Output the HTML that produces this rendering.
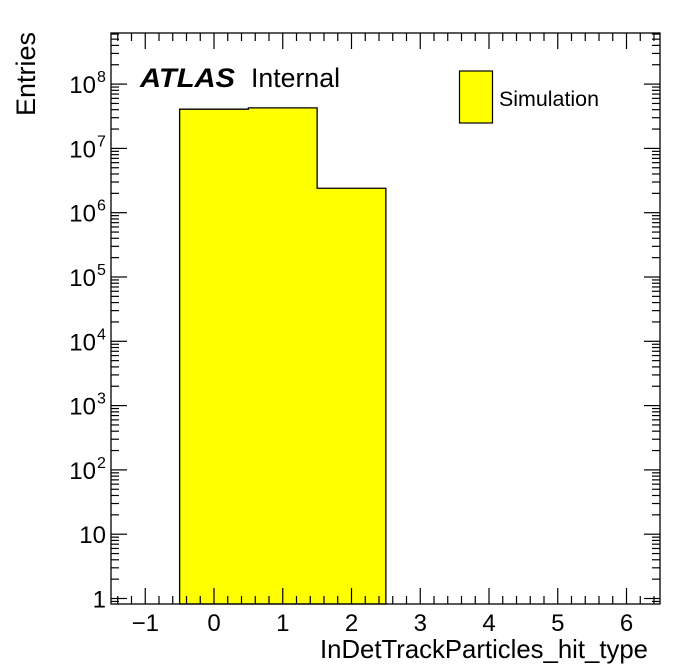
<!DOCTYPE html>
<html><head><meta charset="utf-8"><style>
html,body{margin:0;padding:0;background:#fff;}
svg{display:block;font-family:"Liberation Sans",Arial,sans-serif;}
</style></head><body>
<svg id="s" width="696" height="672" xmlns="http://www.w3.org/2000/svg"></svg>
<script>
const s=document.getElementById('s');
const L=111,R=660,T=33,B=604;
const X=v=>214+v*68.75;
const Y=l=>598.5-l*64.3;
let h='<rect width="696" height="672" fill="#fff"/>';
const bars=[[-0.5,0.5,7.61],[0.5,1.5,7.63],[1.5,2.5,6.38]];
let d='M'+X(-0.5)+' '+B;
bars.forEach(b=>{d+=' L'+X(b[0])+' '+Y(b[2])+' L'+X(b[1])+' '+Y(b[2]);});
d+=' L'+X(2.5)+' '+B+' Z';
h+='<path d="'+d+'" fill="#ffff00" stroke="#000" stroke-width="1.3"/>';
h+='<rect x="'+L+'" y="'+T+'" width="'+(R-L)+'" height="'+(B-T)+'" fill="none" stroke="#000" stroke-width="1.3"/>';
for(let v=-1.4;v<=6.45;v+=0.2){const vv=Math.round(v*10)/10;const x=X(vv);if(x<L||x>R)continue;
 const maj=Math.abs(vv-Math.round(vv))<1e-6;const len=maj?16:8;
 h+='<line x1="'+x+'" y1="'+B+'" x2="'+x+'" y2="'+(B-len)+'" stroke="#000" stroke-width="1.2"/>';
 h+='<line x1="'+x+'" y1="'+T+'" x2="'+x+'" y2="'+(T+len)+'" stroke="#000" stroke-width="1.2"/>';
 if(maj){h+='<text x="'+x+'" y="631" font-size="24" text-anchor="middle">'+(vv<0?'\u2212'+(-vv):vv)+'</text>';}
}
for(let e=-1;e<=9;e++){for(let m=1;m<=9;m++){const l=e+Math.log10(m);const y=Y(l);if(y<T||y>B)continue;
 const len=m==1?16:8;
 h+='<line x1="'+L+'" y1="'+y+'" x2="'+(L+len)+'" y2="'+y+'" stroke="#000" stroke-width="1.2"/>';
 h+='<line x1="'+R+'" y1="'+y+'" x2="'+(R-len)+'" y2="'+y+'" stroke="#000" stroke-width="1.2"/>';
}}
for(let e=0;e<=8;e++){const y=Y(e)+9;
 if(e==0)h+='<text x="106" y="'+y+'" font-size="24" text-anchor="end">1</text>';
 else if(e==1)h+='<text x="106" y="'+y+'" font-size="24" text-anchor="end">10</text>';
 else h+='<text x="96" y="'+y+'" font-size="24" text-anchor="end">10</text><text x="97" y="'+(y-11)+'" font-size="16">'+e+'</text>';
}
h+='<text x="320" y="658" font-size="26" textLength="328" lengthAdjust="spacingAndGlyphs">InDetTrackParticles_hit_type</text>';
h+='<text transform="translate(35,116) rotate(-90)" font-size="27" textLength="84" lengthAdjust="spacingAndGlyphs">Entries</text>';
h+='<text x="140" y="87" font-size="27" font-weight="bold" font-style="italic" textLength="95" lengthAdjust="spacingAndGlyphs">ATLAS</text>';
h+='<text x="251" y="87" font-size="27" textLength="89" lengthAdjust="spacingAndGlyphs">Internal</text>';
h+='<rect x="459.5" y="71" width="33" height="52" fill="#ffff00" stroke="#000" stroke-width="1.2"/>';
h+='<text x="499" y="106" font-size="21" textLength="100" lengthAdjust="spacingAndGlyphs">Simulation</text>';
s.innerHTML=h;
</script>
</body></html>
